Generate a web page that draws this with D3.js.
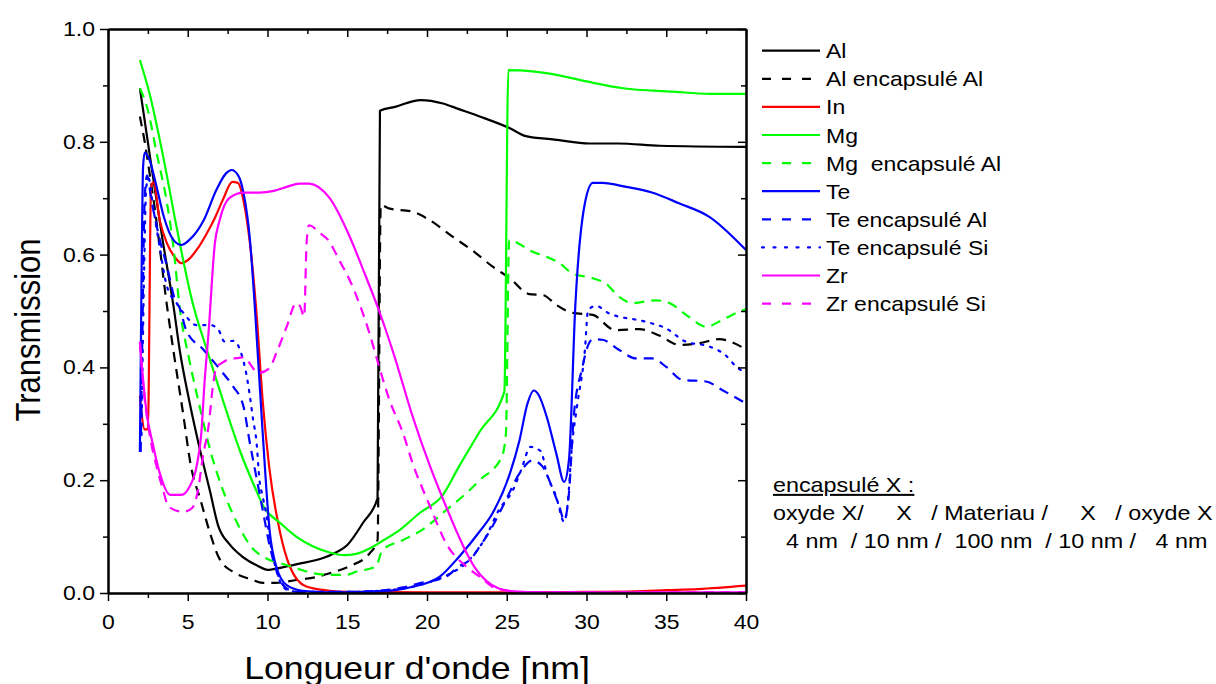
<!DOCTYPE html>
<html>
<head>
<meta charset="utf-8">
<script src="https://cdn.jsdelivr.net/npm/d3@7"></script>
<style>
  html, body { margin: 0; padding: 0; background: #fff; }
  svg text { font-family: "Liberation Sans", Arial, sans-serif; fill: #000; white-space: pre; }
</style>
</head>
<body>
<svg id="chart" width="1216" height="684"></svg>
<script>
// ---------- DATA ----------
const xTicks = [0, 5, 10, 15, 20, 25, 30, 35, 40];
const yTicks = [0.0, 0.2, 0.4, 0.6, 0.8, 1.0];

const seriesNames = ["Al", "Al encapsulé Al", "In", "Mg", "Mg  encapsulé Al", "Te",
  "Te encapsulé Al", "Te encapsulé Si", "Zr", "Zr encapsulé Si"];

const Al = [[2,0.895],[2.6,0.78],[3.4,0.63],[4.1,0.51],[4.5,0.43],[5.1,0.34],[5.8,0.25],[6.4,0.18],[6.9,0.12],[7.6,0.087],[8.4,0.065],[9.4,0.048],[10,0.041],[11,0.046],[12,0.052],[13,0.058],[14,0.068],[15,0.085],[16,0.125],[16.9,0.168],[17.05,0.855],[18,0.862],[19.6,0.874],[21,0.868],[22,0.858],[23.3,0.845],[25.2,0.824],[26.2,0.81],[28,0.804],[30.2,0.797],[32,0.797],[34.6,0.793],[40,0.791]];

const AlEncAl = [[2,0.845],[2.3,0.80],[2.63,0.74],[2.94,0.68],[3.3,0.6],[3.6,0.53],[4.1,0.43],[4.7,0.32],[5.2,0.225],[5.8,0.165],[6.4,0.106],[7,0.06],[8,0.035],[9,0.024],[9.7,0.018],[10.5,0.018],[11.8,0.023],[13,0.028],[13.9,0.035],[15.1,0.047],[16.4,0.07],[16.9,0.094],[17.1,0.688],[17.6,0.682],[19.1,0.676],[20,0.664],[21.6,0.632],[23,0.604],[24.1,0.579],[25.2,0.558],[26.4,0.53],[27.3,0.528],[28.1,0.511],[29.1,0.497],[30.4,0.493],[31.8,0.466],[33.3,0.468],[34.6,0.456],[35.8,0.44],[37.1,0.443],[38.3,0.45],[40,0.432]];

const In = [[2,0.35],[2.3,0.29],[2.5,0.29],[2.7,0.72],[2.85,0.728],[3.25,0.66],[3.7,0.62],[4.2,0.595],[4.6,0.585],[5,0.59],[5.6,0.61],[6.2,0.638],[6.7,0.665],[7.2,0.697],[7.8,0.729],[8.15,0.727],[8.5,0.695],[8.9,0.62],[9.3,0.5],[9.7,0.34],[10.1,0.225],[10.8,0.106],[11.4,0.047],[12.4,0.012],[13.9,0.004],[15,0.002],[20,0.001],[25,0.001],[30,0.002],[33,0.003],[35,0.005],[37,0.007],[40,0.013]];

const Mg = [[2,0.945],[2.6,0.886],[3.5,0.768],[4.3,0.649],[5.3,0.515],[6.2,0.431],[7.2,0.342],[8.3,0.25],[9.4,0.175],[9.7,0.156],[10.8,0.124],[11.8,0.10],[12.9,0.082],[14,0.071],[14.8,0.067],[15.5,0.069],[16.4,0.079],[17.3,0.094],[18.3,0.112],[19.5,0.141],[21,0.174],[22,0.224],[23.3,0.286],[24.85,0.357],[25.1,0.927],[26.6,0.925],[27.7,0.921],[30,0.907],[32.3,0.895],[35.4,0.889],[37.7,0.885],[40,0.885]];

const MgEncAl = [[2,0.895],[2.5,0.856],[3.05,0.78],[3.7,0.691],[4.1,0.614],[4.5,0.505],[5.1,0.413],[5.8,0.324],[6.4,0.254],[7.2,0.183],[8.1,0.124],[8.9,0.085],[10.1,0.059],[10.8,0.053],[11.8,0.044],[12.9,0.035],[13.9,0.032],[14.9,0.032],[15.6,0.038],[16.8,0.047],[17.2,0.076],[18.5,0.094],[19.7,0.112],[21.2,0.147],[22.7,0.183],[23.3,0.2],[24.7,0.242],[24.95,0.283],[25.15,0.626],[25.9,0.617],[26.4,0.608],[27.5,0.596],[28.3,0.585],[29.1,0.567],[30.4,0.558],[31.2,0.549],[32.05,0.525],[32.9,0.514],[34.35,0.519],[35.2,0.514],[36.4,0.49],[37.5,0.472],[38.5,0.484],[39.6,0.499],[40,0.503]];

const Te = [[2.0,0.25],[2.1,0.55],[2.2,0.756],[2.3,0.781],[2.6,0.768],[3.05,0.72],[3.5,0.667],[4.1,0.626],[4.6,0.617],[5.1,0.626],[6,0.661],[6.8,0.715],[7.4,0.744],[7.75,0.75],[8.15,0.741],[8.5,0.709],[8.9,0.626],[9.2,0.51],[9.7,0.283],[10.15,0.106],[10.55,0.047],[11.2,0.014],[12.2,0.004],[14,0.001],[16,0.002],[18,0.005],[19.1,0.011],[20.8,0.029],[22,0.064],[23.3,0.109],[24.1,0.141],[25.2,0.212],[25.8,0.271],[26.3,0.336],[26.7,0.359],[27,0.351],[27.5,0.313],[28.1,0.248],[28.6,0.197],[28.9,0.236],[29.3,0.51],[29.9,0.691],[30.4,0.727],[31,0.727],[32.5,0.72],[34.1,0.71],[35.8,0.691],[37.7,0.667],[40,0.608]];

const TeEncAl = [[2.05,0.25],[2.15,0.45],[2.3,0.7],[2.45,0.74],[2.7,0.70],[3.25,0.626],[3.7,0.579],[4.2,0.52],[4.5,0.505],[4.9,0.466],[6,0.431],[7.2,0.39],[7.85,0.366],[8.5,0.33],[8.9,0.265],[9.3,0.206],[9.7,0.147],[10.15,0.082],[10.55,0.041],[10.9,0.017],[11.4,0.005],[12,0.002],[15,0.002],[17,0.004],[18.5,0.01],[19.5,0.017],[21.2,0.029],[22,0.047],[22.7,0.059],[23.3,0.082],[24.1,0.118],[24.95,0.165],[25.8,0.212],[26.6,0.235],[27.25,0.224],[27.9,0.183],[28.3,0.153],[28.6,0.129],[28.9,0.177],[29.2,0.313],[29.75,0.401],[30,0.431],[30.4,0.45],[31,0.449],[32.05,0.431],[33.1,0.416],[34.1,0.416],[35,0.401],[36,0.378],[37.5,0.375],[38.5,0.36],[40,0.336]];

const TeEncSi = [[2.1,0.28],[2.25,0.55],[2.4,0.72],[2.55,0.735],[2.8,0.69],[3.2,0.62],[3.7,0.543],[4.3,0.514],[4.8,0.494],[5.55,0.475],[6.4,0.475],[6.9,0.468],[7.3,0.446],[7.9,0.447],[8.35,0.425],[8.7,0.384],[8.9,0.348],[9.1,0.307],[9.3,0.271],[9.5,0.2],[9.7,0.171],[9.95,0.135],[10.15,0.094],[10.35,0.064],[10.75,0.023],[11.2,0.006],[12,0.002],[15,0.002],[18,0.006],[20,0.018],[21.5,0.035],[22.45,0.053],[23.7,0.1],[24.5,0.147],[25.4,0.183],[25.9,0.218],[26.5,0.259],[27.15,0.251],[27.5,0.212],[28.1,0.171],[28.6,0.126],[28.8,0.153],[29.1,0.265],[29.4,0.33],[29.9,0.431],[30.1,0.502],[30.6,0.509],[31.4,0.496],[33.7,0.481],[35,0.469],[36.2,0.446],[37.7,0.437],[38.7,0.422],[39.4,0.401],[40,0.39]];

const Zr = [[2,0.443],[2.4,0.324],[2.85,0.259],[3.25,0.212],[3.9,0.174],[4.6,0.174],[5.1,0.188],[5.55,0.224],[5.85,0.283],[6.05,0.372],[6.3,0.46],[6.7,0.62],[7,0.661],[7.6,0.70],[8.5,0.71],[9.5,0.71],[10.4,0.713],[11.2,0.72],[12,0.726],[12.6,0.726],[13.9,0.70],[15.15,0.632],[16,0.573],[17,0.5],[17.9,0.425],[19.1,0.313],[20.2,0.224],[21.2,0.153],[22,0.1],[22.5,0.07],[23,0.045],[23.7,0.022],[24.5,0.008],[25.5,0.003],[27,0.001],[40,0.001]];

const ZrEncSi = [[2,0.446],[2.2,0.372],[2.6,0.283],[3.05,0.224],[3.45,0.183],[3.8,0.153],[4.7,0.144],[5.25,0.15],[5.65,0.183],[5.95,0.242],[6.3,0.295],[6.6,0.372],[6.8,0.401],[7.1,0.407],[7.45,0.413],[8.2,0.417],[8.5,0.418],[9.2,0.395],[9.4,0.39],[10.1,0.398],[10.55,0.425],[11.2,0.472],[11.8,0.514],[12.05,0.508],[12.3,0.49],[12.45,0.62],[12.6,0.652],[13.3,0.638],[13.8,0.626],[14.5,0.59],[15.15,0.555],[15.8,0.51],[16.4,0.46],[17,0.401],[17.65,0.342],[18.5,0.283],[19.1,0.23],[20.2,0.153],[21.2,0.088],[22.45,0.047],[23.3,0.029],[24.1,0.011],[25,0.004],[26,0.001],[40,0.001]];

const noteLines = ["encapsulé X :", "oxyde X/     X   / Materiau /     X   / oxyde X", "  4 nm  / 10 nm /  100 nm  / 10 nm /   4 nm"];

// ---------- STYLES ----------
const seriesData = [Al, AlEncAl, In, Mg, MgEncAl, Te, TeEncAl, TeEncSi, Zr, ZrEncSi];
const colors = ["#000000", "#000000", "#ff0000", "#00ff00", "#00ff00", "#0000ff", "#0000ff", "#0000ff", "#ff00ff", "#ff00ff"];
const DASH = "10,7", DOT = "2.2,7";
const dashes = [null, DASH, null, null, DASH, null, DASH, DOT, null, DASH];

const SX = 1.15; // horizontal text stretch of the original
const m = { left: 108, right: 746, top: 29, bottom: 593 };

const svg = d3.select("#chart");
const x = d3.scaleLinear().domain([0, 40]).range([m.left, m.right]);
const y = d3.scaleLinear().domain([0, 1]).range([m.bottom, m.top]);

svg.append("defs").append("clipPath").attr("id", "clip")
  .append("rect").attr("x", m.left).attr("y", m.top)
  .attr("width", m.right - m.left).attr("height", m.bottom - m.top);

// ---------- LINES ----------
const line = d3.line().x(d => x(d[0])).y(d => y(d[1])).curve(d3.curveMonotoneX);
const gLines = svg.append("g").attr("clip-path", "url(#clip)");
seriesData.forEach((data, i) => {
  gLines.append("path").datum(data)
    .attr("d", line)
    .attr("fill", "none")
    .attr("stroke", colors[i])
    .attr("stroke-width", 2.2)
    .attr("stroke-linejoin", "round")
    .attr("stroke-linecap", dashes[i] === DOT ? "round" : "butt")
    .attr("stroke-dasharray", dashes[i]);
});

// ---------- AXES ----------
const minorX = d3.range(0, 40.01, 2.5).filter(v => v % 5 !== 0);
const minorY = d3.range(0, 1.001, 0.1).map(v => +v.toFixed(1)).filter(v => Math.round(v * 10) % 2 !== 0);

function styleAxis(g) {
  g.selectAll("path.domain").attr("stroke", "#000").attr("stroke-width", 2);
  g.selectAll(".tick line").attr("stroke", "#000").attr("stroke-width", 1.5);
  g.selectAll(".tick text").attr("font-size", 20).attr("font-family", "Liberation Sans, Arial, sans-serif")
    .attr("fill", "#000");
}

// bottom
const gB = svg.append("g").attr("transform", `translate(0,${m.bottom})`)
  .call(d3.axisBottom(x).tickValues(xTicks).tickSize(8).tickSizeOuter(0).tickPadding(14).tickFormat(d3.format("d")));
styleAxis(gB);
gB.selectAll(".tick text").attr("transform", `scale(${SX},1)`);
const gBm = svg.append("g").attr("transform", `translate(0,${m.bottom})`)
  .call(d3.axisBottom(x).tickValues(minorX).tickSize(5).tickSizeOuter(0).tickFormat(""));
styleAxis(gBm);

// top
const gT = svg.append("g").attr("transform", `translate(0,${m.top})`)
  .call(d3.axisTop(x).tickValues(xTicks).tickSize(-8).tickSizeOuter(0).tickFormat(""));
styleAxis(gT);
const gTm = svg.append("g").attr("transform", `translate(0,${m.top})`)
  .call(d3.axisTop(x).tickValues(minorX).tickSize(-5).tickSizeOuter(0).tickFormat(""));
styleAxis(gTm);

// left
const gL = svg.append("g").attr("transform", `translate(${m.left},0)`)
  .call(d3.axisLeft(y).tickValues(yTicks).tickSize(8).tickSizeOuter(0).tickPadding(5).tickFormat(d3.format(".1f")));
styleAxis(gL);
gL.selectAll(".tick text").attr("transform", `scale(${SX},1)`).attr("x", -13 / SX);
const gLm = svg.append("g").attr("transform", `translate(${m.left},0)`)
  .call(d3.axisLeft(y).tickValues(minorY).tickSize(5).tickSizeOuter(0).tickFormat(""));
styleAxis(gLm);

// right
const gR = svg.append("g").attr("transform", `translate(${m.right},0)`)
  .call(d3.axisRight(y).tickValues(yTicks).tickSize(-8).tickSizeOuter(0).tickFormat(""));
styleAxis(gR);
const gRm = svg.append("g").attr("transform", `translate(${m.right},0)`)
  .call(d3.axisRight(y).tickValues(minorY).tickSize(-5).tickSizeOuter(0).tickFormat(""));
styleAxis(gRm);

// ---------- TITLES ----------
svg.append("text")
  .attr("transform", `translate(417,679) scale(${SX},1)`)
  .attr("text-anchor", "middle").attr("font-size", 31)
  .text("Longueur d'onde [nm]");
svg.append("text")
  .attr("transform", `translate(40,330) scale(${SX},1) rotate(-90)`)
  .attr("text-anchor", "middle").attr("font-size", 31)
  .text("Transmission");

// ---------- LEGEND ----------
const legY0 = 50.7, legDy = 28.1;
const gLeg = svg.append("g");
seriesNames.forEach((name, i) => {
  const yy = legY0 + i * legDy;
  gLeg.append("line")
    .attr("x1", 762).attr("x2", 820).attr("y1", yy).attr("y2", yy)
    .attr("stroke", colors[i]).attr("stroke-width", 2.2)
    .attr("stroke-linecap", dashes[i] === DOT ? "round" : "butt")
    .attr("stroke-dasharray", dashes[i] === DASH ? "9,11" : dashes[i] === DOT ? "2,9.5" : null);
  gLeg.append("text")
    .attr("transform", `translate(826,${yy + 7.5}) scale(${SX},1)`)
    .attr("font-size", 20)
    .text(name);
});

// ---------- NOTE ----------
const noteY = [492, 520, 548];
noteLines.forEach((t, i) => {
  svg.append("text")
    .attr("transform", `translate(773,${noteY[i]}) scale(${SX},1)`)
    .attr("font-size", 20.3)
    .attr("text-decoration", i === 0 ? "underline" : null)
    .text(t);
});
</script>
</body>
</html>
